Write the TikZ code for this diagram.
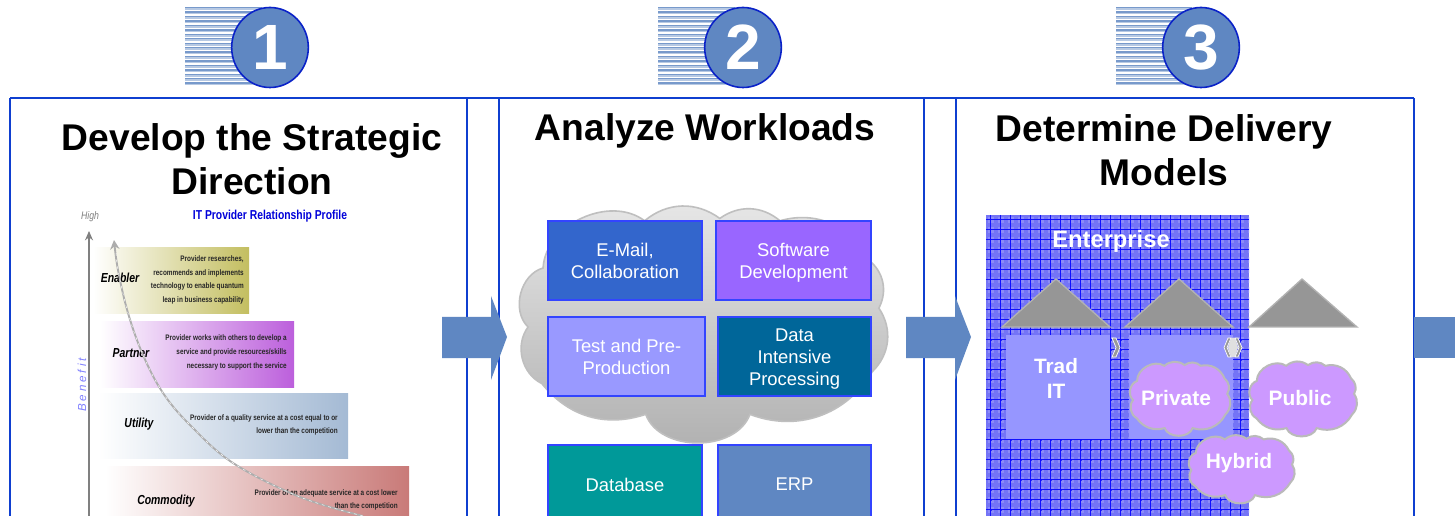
\documentclass[tikz,border=0pt]{standalone}
\usepackage{fontspec}
\setmainfont{Liberation Sans}
\newfontfamily\narrowf[FakeStretch=0.8]{Liberation Sans}
\newfontfamily\spacedf[LetterSpace=25]{Liberation Sans}
\usetikzlibrary{arrows.meta,shapes.geometric}
\definecolor{panelblue}{HTML}{0F3FD0}
\definecolor{steel}{HTML}{5F87C2}
\definecolor{circ}{HTML}{0A22C8}
\definecolor{boxedge}{HTML}{3344FF}
\definecolor{entfill}{HTML}{7474F6}
\definecolor{entlight}{HTML}{8C8CF8}
\definecolor{lav}{HTML}{9696FF}
\definecolor{lilac}{HTML}{CC99FF}
\definecolor{roof}{HTML}{969696}
\definecolor{barA}{HTML}{C3BE60}
\definecolor{barB}{HTML}{BC5FDC}
\definecolor{barC}{HTML}{A4BAD4}
\definecolor{barD}{HTML}{C97A78}
\newcommand{\fs}[2]{\fontsize{#1}{#2}\selectfont}
\newcommand{\cloudoutline}{(.04,.50) to[bend left=60] (.08,.25) to[bend left=62] (.35,.05) to[bend left=38] (.55,.04) to[bend left=38] (.71,.05) to[bend left=40] (.945,.215) to[bend left=40] (.973,.42) to[bend left=40] (.955,.69) to[bend left=40] (.63,.87) to[bend left=70] (.353,.87) to[bend left=35] (.077,.74) to[bend left=50] cycle}
\tikzset{
 panelline/.style={draw=panelblue,line width=1.9pt},
 numc/.style={ellipse,draw=circ,fill=steel,line width=1.2pt,minimum width=57.5pt,minimum height=60pt,inner sep=0pt,text=white,font=\bfseries\fs{48}{48}},
 wbox/.style={draw=boxedge,line width=1.8pt,text=white,align=center,inner sep=0pt,font=\fs{13.8}{16.5}},
 title/.style={align=center,font=\bfseries\fs{27.9}{33.4},text=black,inner sep=0pt},
 bigarrow/.style={fill=steel},
 level/.style={font=\narrowf\bfseries\itshape\fs{9.8}{10},inner sep=0pt},
 desc/.style={font=\narrowf\bfseries\fs{6}{10.2},align=right,inner sep=0pt,anchor=east,text=black!85},
 roofs/.style={fill=roof,draw=black!30,line width=1pt},
 house/.style={fill=lav},
 cloudtxt/.style={text=white,font=\bfseries\fs{15.7}{16},inner sep=0pt},
 smallcloud/.style={draw=black!27,line width=1.5pt,fill=lilac},
 chev/.style={fill=black!40,draw=white,line width=.5pt},
}
\begin{document}
\begin{tikzpicture}[x=.75pt,y=-.75pt]
\useasboundingbox (0,0) rectangle (1455,516);
\fill[white] (0,0) rectangle (1455,516);
% striped blocks
\foreach \xa/\xb in {185/262,658/735,1116/1192}{
  \foreach \yy in {7,11.44,...,85}{
    \fill[steel!85!white] (\xa,\yy) rectangle (\xb,\yy+1.4);
    \fill[steel!45!white] (\xa,\yy+1.4) rectangle (\xb,\yy+3);
  }
}
\node[numc] (n1) at (270,47.5) {1};
\node[numc] (n2) at (743,47.5) {2};
\node[numc] (n3) at (1201,47.5) {3};
% big grey cloud
\path[draw=black!25,line width=1.2pt,top color=black!9,bottom color=black!31,shift={(513,209)},x=282pt,y=-177pt] \cloudoutline;
% frames
\coordinate (tl) at (10,98); \coordinate (tr) at (1414,98);
\draw[panelline] (tl) -- (tr);
\foreach \xx in {10,467,499,924,956,1414}{\draw[panelline] (\xx,98) -- (\xx,516);}
% arrows
\coordinate (a1) at (442,317); \coordinate (a2) at (906,317); \coordinate (a3) at (1414,317);
\fill[bigarrow] (a1) -- ++(49,0) -- ++(0,-21) -- ++(16,41) -- ++(-16,43) -- ++(0,-22) -- ++(-49,0) -- cycle;
\fill[bigarrow] (a2) -- ++(49,0) -- ++(0,-21) -- ++(16,41) -- ++(-16,43) -- ++(0,-22) -- ++(-49,0) -- cycle;
\fill[steel] (a3) rectangle (1455,358);
% titles
\node[title] (t1) at (252,159) {Develop the Strategic\\Direction};
\node[title] (t2) at (705,131) {Analyze Workloads};
\node[title] (t3) at (1164,150) {Determine Delivery\\Models};
% profile
\shade[left color=white,right color=barA] (93,248) rectangle (249,314);
\shade[left color=white,right color=barB] (100,322) rectangle (294,387);
\shade[left color=white,right color=barC] (98,393) rectangle (348,458);
\shade[left color=white,right color=barD] (105,466) rectangle (409,516);
\node[font=\narrowf\itshape\fs{8.2}{9},text=black!50,inner sep=0] (high) at (90,216.5) {High};
\node[font=\narrowf\bfseries\fs{9.7}{10},text=blue!85!black,inner sep=0] (prof) at (270,216.5) {IT Provider Relationship Profile};
\node[level] (l1) at (120,278) {Enabler};
\node[level] (l2) at (131,353) {Partner};
\node[level] (l3) at (139,424) {Utility};
\node[level] (l4) at (166,501) {Commodity};
\node[desc] (d1) at (244,280) {Provider researches,\\recommends and implements\\technology to enable quantum\\leap in business capability};
\node[desc] (d2) at (287,352.5) {Provider works with others to develop a\\service and provide resources/skills\\necessary to support the service};
\node[desc] (d3) at (338,425) {Provider of a quality service at a cost equal to or\\lower than the competition};
\node[desc] (d4) at (398,500) {Provider of an adequate service at a cost lower\\than the competition};
\coordinate (axb) at (89,516); \coordinate (axt) at (89,231);
\draw[-{Stealth[length=7pt,width=6pt]},draw=black!50,fill=black!50,line width=1.1pt] (axb) -- (axt);
\node[rotate=90,font=\spacedf\itshape\fs{8.7}{9},text=blue!50!white,inner sep=0] (ben) at (82,385) {Benefit};
\draw[-{Stealth[length=7pt,width=7pt]},draw=black!32,line width=1.4pt] plot[smooth,tension=.6] coordinates {(363,516) (300,497) (233,463) (190,425) (163,393) (143,355) (128,313) (118,270) (114,240)};
\draw[draw=white,line width=.35pt,dash pattern=on 2pt off 3pt] plot[smooth,tension=.6] coordinates {(363,516) (300,497) (233,463) (190,425) (163,393) (143,355) (128,313) (118,270) (116,250)};
% workload boxes
\foreach \nm/\xa/\ya/\xb/\yb/\ty/\col/\txt in {
 w1/547/220/703/301/261/3366CC/{E-Mail,\\Collaboration},
 w2/715/220/872/301/262.5/9966FF/{Software\\Development},
 w3/547/316/706/397/356.5/9999FF/{Test and Pre-\\Production},
 w4/717/316/872/397/359.5/006699/{Data\\Intensive\\Processing},
 w5/547/444/703/526/485/009999/{Database},
 w6/717/444/872/526/484.5/5F87C2/{ERP}}{
  \definecolor{tmpc}{HTML}{\col}
  \draw[draw=boxedge,line width=1.8pt,fill=tmpc] (\xa+.8,\ya+.8) rectangle (\xb-.8,\yb-.8);
  \node[wbox,draw=none] (\nm) at ({(\xa+\xb)/2},\ty) {\txt};
}
% enterprise
\fill[entfill] (986,215) rectangle (1249,516);
\begin{scope}
\clip (986,215) rectangle (1249,516);
\foreach \xx in {986,996,...,1246}{\foreach \yy in {215,225,...,515}{
  \fill[entlight] (\xx+2,\yy+2) rectangle (\xx+8,\yy+8);
  \fill[blue!60!entfill] (\xx+4.5,\yy+4.5) rectangle (\xx+5.5,\yy+5.5);
}}
\foreach \xx in {990,1000,...,1249}{\draw[blue!85!entfill,line width=.45pt] (\xx,215) -- (\xx,516);}
\foreach \yy in {219,229,...,516}{\draw[blue!85!entfill,line width=.45pt] (986,\yy) -- (1249,\yy);}
\end{scope}
\node[text=white,font=\bfseries\fs{17.8}{18},inner sep=0] (ent) at (1111,241.5) {Enterprise};
\fill[house] (1006,335) rectangle (1110,439);
\fill[house] (1129,335) rectangle (1233,439);
\node[cloudtxt,align=center,font=\bfseries\fs{15.6}{19}] (trad) at (1056,378.5) {Trad\\IT};
\draw[roofs] (1002,327) -- (1056,279) -- (1110,327) -- cycle;
\draw[roofs] (1125,327) -- (1179,279) -- (1233,327) -- cycle;
\draw[roofs] (1249,327) -- (1302,279) -- (1357,327) -- cycle;
% chevrons
\draw[chev] (1112,338) -- (1116,338) -- (1120,347.5) -- (1116,357) -- (1112,357) -- (1116,347.5) -- cycle;
\draw[chev] (1231,338) -- (1227,347.5) -- (1231,357) -- (1228,357) -- (1224,347.5) -- (1228,338) -- cycle;
\fill[black!12] (1231,338) -- (1235,338) -- (1238,347.5) -- (1235,357) -- (1231,357) -- (1228,347.5) -- cycle;
\draw[chev] (1235,338) -- (1239,347.5) -- (1235,357) -- (1238,357) -- (1242,347.5) -- (1238,338) -- cycle;
% small clouds
\path[smallcloud,shift={(1129,362)},x=75.75pt,y=-57pt] \cloudoutline;
\path[smallcloud,shift={(1248,362)},x=81.75pt,y=-57pt] \cloudoutline;
\path[smallcloud,shift={(1187,436)},x=81pt,y=-51pt] \cloudoutline;
\node[cloudtxt] (priv) at (1176,398) {Private};
\node[cloudtxt] (pub) at (1300,398) {Public};
\node[cloudtxt] (hyb) at (1239,463) {Hybrid};
\end{tikzpicture}
\end{document}
